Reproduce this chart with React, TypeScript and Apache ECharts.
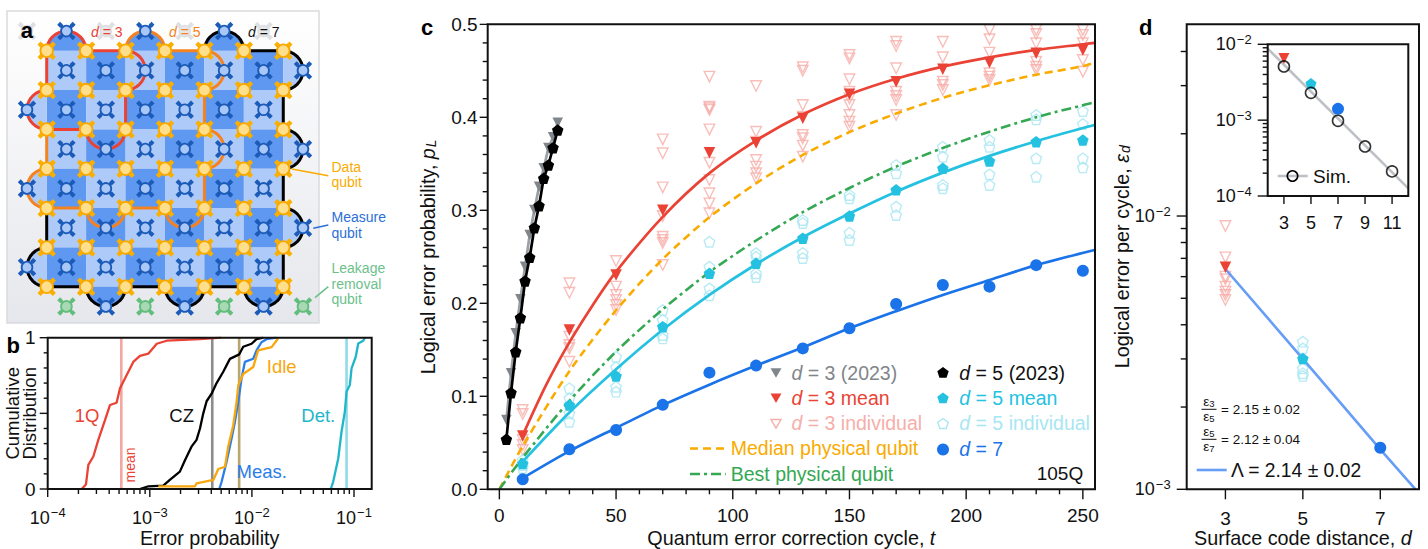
import React, { useEffect, useRef } from "react";
import * as echarts from "echarts";

const FONT = "Liberation Sans, Arial, sans-serif";
const RED = "#ea4335", CYAN = "#24c1e0", BLUE = "#1a73e8", YEL = "#f9ab00", GRN = "#34a853", GREY = "#80868b";
const PALE_RED = "#f6aea9", PALE_CY = "#a8e6f3";

// ---------- panel b: error CDFs ----------
const q1X = [2.15e-4, 2.37e-4, 2.5e-4, 2.8e-4, 3.13e-4, 3.64e-4, 4.07e-4, 4.73e-4, 5.1e-4, 5.71e-4, 6.89e-4, 8e-4, 9.7e-4, 1.17e-3, 1.46e-3, 3.1e-3, 5e-3];
const q1Y = [0, 0.03, 0.16, 0.215, 0.325, 0.455, 0.555, 0.57, 0.665, 0.73, 0.84, 0.88, 0.895, 0.96, 0.98, 0.99, 1];
const czX = [8e-4, 9.7e-4, 1.355e-3, 1.57e-3, 1.97e-3, 2.21e-3, 2.56e-3, 2.87e-3, 3.1e-3, 3.34e-3, 3.6e-3, 4.03e-3, 4.51e-3, 5.24e-3, 6.09e-3, 7.52e-3, 8.22e-3, 9.93e-3, 1.11e-2, 1.29e-2];
const czY = [0, 0.018, 0.022, 0.06, 0.115, 0.19, 0.28, 0.325, 0.4, 0.5, 0.58, 0.63, 0.7, 0.775, 0.86, 0.89, 0.94, 0.96, 0.99, 1];
const idleX = [1.21e-3, 2.77e-3, 2.87e-3, 4.19e-3, 4.68e-3, 5.45e-3, 5.86e-3, 6.56e-3, 7.08e-3, 7.35e-3, 8.22e-3, 1.03e-2, 1.15e-2, 1.56e-2, 1.81e-2];
const idleY = [0.018, 0.018, 0.037, 0.06, 0.132, 0.147, 0.28, 0.42, 0.575, 0.685, 0.76, 0.806, 0.916, 0.938, 0.996];
const measX = [4.79e-3, 5.05e-3, 5.65e-3, 6.33e-3, 6.82e-3, 7.35e-3, 7.92e-3, 8.53e-3, 1.03e-2, 1.11e-2, 1.24e-2, 1.39e-2, 1.74e-2];
const measY = [0, 0.048, 0.18, 0.335, 0.445, 0.577, 0.731, 0.84, 0.861, 0.916, 0.97, 0.99, 1];
const detX = [0.0593, 0.0625, 0.07, 0.0755, 0.0813, 0.0845, 0.091, 0.0946, 0.104, 0.11, 0.123, 0.128];
const detY = [0, 0.048, 0.2, 0.38, 0.51, 0.643, 0.687, 0.797, 0.874, 0.962, 0.98, 1];
const meanLines: [number, string][] = [[5.26e-4, "#f4a6a1"], [4.09e-3, "#8c8c8c"], [7.5e-3, "#b9a56e"], [0.0845, "#8fdbe6"]];
const bMinorX = [2e-4, 3e-4, 4e-4, 5e-4, 6e-4, 7e-4, 8e-4, 9e-4, 2e-3, 3e-3, 4e-3, 5e-3, 6e-3, 7e-3, 8e-3, 9e-3, 2e-2, 3e-2, 4e-2, 5e-2, 6e-2, 7e-2, 8e-2, 9e-2];
const bMajorX = [1e-4, 1e-3, 1e-2, 1e-1];

// ---------- panel c ----------
const cycles = [10, 30, 50, 70, 90, 110, 130, 150, 170, 190, 210, 230, 250];
const d3Mean = [0.0573, 0.1713, 0.2304, 0.3, 0.362, 0.3727, 0.399, 0.4247, 0.4383, 0.4516, 0.459, 0.4688, 0.4724];
const d5Mean = [0.0277, 0.0906, 0.1218, 0.1749, 0.2323, 0.243, 0.27, 0.294, 0.322, 0.3452, 0.353, 0.3738, 0.3756];
const d7Pts = [0.0107, 0.043, 0.0638, 0.0908, 0.1254, 0.133, 0.1515, 0.1731, 0.1992, 0.2197, 0.2179, 0.241, 0.235];
const d3Ind = [
  [0.0853, 0.081, 0.053, 0.0477, 0.0423],
  [0.2215, 0.2114, 0.1641, 0.1552, 0.1516, 0.1372],
  [0.2455, 0.2179, 0.2089, 0.2035, 0.1982, 0.1928],
  [0.3763, 0.3613, 0.3247, 0.2938, 0.2716, 0.268, 0.2648, 0.2412],
  [0.4437, 0.4114, 0.4097, 0.408, 0.387, 0.3512, 0.3326, 0.3183, 0.3075, 0.2968],
  [0.4337, 0.3845, 0.3738, 0.3541, 0.347, 0.3398, 0.3344],
  [0.4538, 0.4501, 0.4132, 0.4006, 0.381, 0.3774, 0.3695, 0.3576],
  [0.467, 0.4634, 0.4409, 0.4275, 0.4204, 0.4132, 0.4025, 0.3953, 0.3899],
  [0.4813, 0.4767, 0.4527, 0.4275, 0.4229, 0.4186, 0.4025],
  [0.4813, 0.4645, 0.4383, 0.4348, 0.4294],
  [0.494, 0.484, 0.4695, 0.4473, 0.4437, 0.4401],
  [0.494, 0.4896, 0.4796, 0.4598, 0.4544, 0.4509],
  [0.494, 0.4886, 0.4796, 0.4616, 0.449],
];
const d5Ind = [
  [0.0315, 0.0262, 0.0229],
  [0.1086, 0.0978, 0.0817, 0.0727],
  [0.1426, 0.1312, 0.1103, 0.105],
  [0.1928, 0.182, 0.1659, 0.1623],
  [0.2662, 0.2394, 0.2161, 0.2086],
  [0.254, 0.2501, 0.2323, 0.2283],
  [0.2896, 0.2863, 0.2541, 0.2487],
  [0.3165, 0.3129, 0.2759, 0.268],
  [0.3487, 0.3398, 0.3039, 0.2949],
  [0.3684, 0.3576, 0.3272, 0.3237],
  [0.3756, 0.3684, 0.3387, 0.3272],
  [0.4025, 0.3978, 0.3559, 0.3361],
  [0.4068, 0.3928, 0.3559, 0.3462],
];
const y2023T = [3, 5, 7, 9, 11, 13, 15, 17, 19, 21, 23, 25];
const d5y2023 = [0.0538, 0.1039, 0.148, 0.1845, 0.224, 0.2495, 0.2813, 0.305, 0.3344, 0.3487, 0.3673, 0.3863];
const d3y2023 = [0.0745, 0.1247, 0.1677, 0.2043, 0.2394, 0.2734, 0.3003, 0.3254, 0.3452, 0.367, 0.3785, 0.3942];
const fitD3T = [10, 20, 30, 40, 50, 70, 90, 110, 130, 150, 170, 190, 210, 230, 250, 255];
const fitD3 = [0.058, 0.112, 0.158, 0.198, 0.234, 0.293, 0.34, 0.375, 0.403, 0.4248, 0.4415, 0.4545, 0.4645, 0.4725, 0.4785, 0.48];
const fitT = [0, 10, 30, 50, 70, 90, 110, 130, 150, 170, 190, 210, 230, 250, 255];
const medianQ = [0, 0.0465, 0.127, 0.1925, 0.2475, 0.2925, 0.329, 0.3595, 0.384, 0.404, 0.421, 0.4345, 0.4458, 0.455, 0.4587];
const bestQ = [0, 0.034, 0.095, 0.148, 0.1935, 0.2335, 0.2675, 0.298, 0.324, 0.347, 0.367, 0.3845, 0.4, 0.413, 0.416];
const fitD5T = [10, 30, 50, 70, 90, 110, 130, 150, 170, 190, 210, 230, 250, 255];
const fitD5 = [0.0297, 0.0825, 0.129, 0.1715, 0.209, 0.242, 0.271, 0.2965, 0.32, 0.3405, 0.3585, 0.3743, 0.3885, 0.3917];
const fitD7 = [0.012, 0.041, 0.066, 0.0905, 0.1125, 0.133, 0.1525, 0.1731, 0.1915, 0.209, 0.225, 0.241, 0.2573];
const fitD7T = [10, 30, 50, 70, 90, 110, 130, 150, 170, 190, 210, 230, 255];
const cTicksMajor = [0, 50, 100, 150, 200, 250];
const cTicksMinor = [10, 20, 30, 40, 60, 70, 80, 90, 110, 120, 130, 140, 160, 170, 180, 190, 210, 220, 230, 240];
const cYMajor = [0, 0.1, 0.2, 0.3, 0.4, 0.5];
const cYMinor = [0.02, 0.04, 0.06, 0.08, 0.12, 0.14, 0.16, 0.18, 0.22, 0.24, 0.26, 0.28, 0.32, 0.34, 0.36, 0.38, 0.42, 0.44, 0.46, 0.48];

// ---------- panel d ----------
const dDist = [3, 5, 7];
const dMeans = [6.5e-3, 3.01e-3, 1.42e-3];
const dInd3 = [9.19e-3, 7.06e-3, 6e-3, 5.87e-3, 5.51e-3, 5.29e-3, 5.14e-3, 4.93e-3];
const dInd5 = [3.47e-3, 3.28e-3, 2.77e-3, 2.66e-3, 2.6e-3];
const dFitX = [3, 5, 7, 7.91];
const dFitY = [6.4e-3, 3e-3, 1.4e-3, 1e-3];
const dMinorY = [2e-3, 3e-3, 4e-3, 5e-3, 6e-3, 7e-3, 8e-3, 9e-3, 2e-2, 3e-2, 4e-2];
const dMajorY = [1e-3, 1e-2];
const simD = [3, 5, 7, 9, 11];
const simE = [5.1e-3, 2.29e-3, 9.8e-4, 4.5e-4, 2.11e-4];
const simLineX = [1.8, 12.2];
const simLineY = [8.77e-3, 1.26e-4];
const insetMeans = [6.5e-3, 3.04e-3, 1.41e-3];
const insetMajorY = [1e-4, 1e-3, 1e-2];
const insetMinorY = [2e-4, 3e-4, 4e-4, 5e-4, 6e-4, 7e-4, 8e-4, 9e-4, 2e-3, 3e-3, 4e-3, 5e-3, 6e-3, 7e-3, 8e-3, 9e-3];

// ---------- panel a: lattice units ----------
const idx6 = [0, 1, 2, 3, 4, 5];
const idx7 = [0, 1, 2, 3, 4, 5, 6];
const topBumps = [0.5, 2.5, 4.5];
const bottomBumps = [1.5, 3.5, 5.5];
const pathRed: any[] = [[0, 0], [1, 0, "u"], [2, 0], [2, 1, "r"], [2, 2], [1, 2, "d"], [0, 2], [0, 1, "l"], [0, 0]];
const pathOrange: any[] = [[2, 0], [3, 0, "u"], [4, 0], [4, 1, "r"], [4, 2], [4, 3, "r"], [4, 4], [3, 4, "d"], [2, 4], [1, 4, "d"], [0, 4], [0, 3, "l"], [0, 2]];
const pathBlack: any[] = [[4, 0], [5, 0, "u"], [6, 0], [6, 1, "r"], [6, 2], [6, 3, "r"], [6, 4], [6, 5, "r"], [6, 6], [5, 6, "d"], [4, 6], [3, 6, "d"], [2, 6], [1, 6, "d"], [0, 6], [0, 5, "l"], [0, 4]];

const TRI = "path://M-10,-8 L10,-8 L0,9 Z";
const PENT = "path://M0,-10 L9.51,-3.09 5.88,8.09 -5.88,8.09 -9.51,-3.09 Z";

const zip = (a: number[], b: number[]) => a.map((v, i) => [v, b[i]]);
const DIRS: any = { u: [0, -1], d: [0, 1], l: [-1, 0], r: [1, 0] };
function samplePath(path: any[]) {
  const out: number[][] = [[path[0][0], path[0][1]]];
  for (let k = 1; k < path.length; k++) {
    const p = path[k - 1], q = path[k];
    if (q[2]) {
      const c = [(p[0] + q[0]) / 2, (p[1] + q[1]) / 2];
      const a0 = Math.atan2(p[1] - c[1], p[0] - c[0]);
      const b = DIRS[q[2]];
      const s = Math.cos(a0 + Math.PI / 2) * b[0] + Math.sin(a0 + Math.PI / 2) * b[1] > 0 ? 1 : -1;
      for (let n = 1; n <= 16; n++) {
        const a = a0 + (s * Math.PI * n) / 16;
        out.push([c[0] + 0.5 * Math.cos(a), c[1] + 0.5 * Math.sin(a)]);
      }
    } else out.push([q[0], q[1]]);
  }
  return out;
}

const pentPts = (cx: number, cy: number, r: number) =>
  [0, 1, 2, 3, 4].map((i) => [cx + r * Math.sin((i * 2 * Math.PI) / 5), cy - r * Math.cos((i * 2 * Math.PI) / 5)]);
const triPts = (cx: number, cy: number, r: number) => [[cx - r, cy - r * 0.8], [cx + r, cy - r * 0.8], [cx, cy + r * 0.9]];

const pow10 = (v: number) => {
  const l = Math.log10(v);
  const n = Math.round(l);
  if (Math.abs(l - n) > 1e-6) return "";
  return `{b|10}{s|\u2212${Math.abs(n)}}`;
};
const powRich = { b: { fontSize: 18, fontFamily: FONT, color: "#111" }, s: { fontSize: 13, fontFamily: FONT, color: "#111", padding: [0, 0, 10, 1] } };

function App() {
  const ref = useRef<HTMLDivElement>(null);
  useEffect(() => {
    const chart = echarts.init(ref.current!, undefined, { renderer: "svg" });

    const ticks = (ax: number, dim: "x" | "y", values: number[], at: number, len: number, w = 1.4) => ({
      type: "custom",
      xAxisIndex: ax,
      yAxisIndex: ax,
      silent: true,
      z: 5,
      data: values.map((v) => (dim === "x" ? [v, at] : [at, v])),
      renderItem: (_: any, api: any) => {
        const p = api.coord([api.value(0), api.value(1)]);
        return {
          type: "line",
          shape: dim === "x" ? { x1: p[0], y1: p[1], x2: p[0], y2: p[1] + len } : { x1: p[0], y1: p[1], x2: p[0] - len, y2: p[1] },
          style: { stroke: "#111", lineWidth: w },
        };
      },
    });
    const line = (ax: number, name: string, data: number[][], color: string, width = 2.6, extra: any = {}) => ({
      type: "line", name, xAxisIndex: ax, yAxisIndex: ax, data, showSymbol: false, silent: true,
      lineStyle: { color, width, ...(extra.lineStyle || {}) }, itemStyle: { color }, smooth: extra.smooth || false, z: extra.z || 3,
    });
    const dots = (ax: number, name: string, data: number[][], symbol: string, size: number, color: string, open = false, z = 4) => ({
      type: "scatter", name, xAxisIndex: ax, yAxisIndex: ax, data, symbol, symbolSize: size, silent: true, z,
      clip: false,
      itemStyle: open ? { color: "rgba(255,255,255,0)", borderColor: color, borderWidth: 1.4 } : { color, opacity: 1 },
    });

    // Panel a series
    const cells: number[][] = [];
    idx6.forEach((i) => idx6.forEach((j) => cells.push([i, j])));
    const bumps: number[][] = [];
    topBumps.forEach((x) => bumps.push([x, 0, 0]));
    bottomBumps.forEach((x) => bumps.push([x, 6, 1]));
    topBumps.forEach((y) => bumps.push([6, y, 2]));
    bottomBumps.forEach((y) => bumps.push([0, y, 3]));
    const qubits: number[][] = [];
    idx7.forEach((i) => idx7.forEach((j) => qubits.push([i, j, 0])));
    idx6.forEach((i) => idx6.forEach((j) => qubits.push([i + 0.5, j + 0.5, 1])));
    topBumps.forEach((x) => qubits.push([x, -0.5, 1]));
    bottomBumps.forEach((x) => qubits.push([x, 6.5, 1]));
    topBumps.forEach((y) => qubits.push([6.5, y, 1]));
    bottomBumps.forEach((y) => qubits.push([-0.5, y, 1]));
    [0.5, 2.5, 4.5, 6.5].forEach((x) => qubits.push([x, 6.5, 2]));
    [-0.5, 1.5, 3.5, 5.5].forEach((x) => qubits.push([x, -0.5, 3]));
    const boundaries = [[pathBlack, "#000"], [pathOrange, "#f58220"], [pathRed, RED]] as [any[], string][];

    const QSTYLE = [
      { arm: "#fbb000", ring: "#f9a800", fill: "#ffdf8c", r: 6.3, L: 6.2, D: 3.0, w: 4.2 },
      { arm: "#1c5bb8", ring: "#1c5bb8", fill: "#a9c7f7", r: 5.4, L: 6.3, D: 2.9, w: 3.2 },
      { arm: "#63bd7c", ring: "#63bd7c", fill: "#a8d9b5", r: 5.4, L: 6.3, D: 2.9, w: 3.2 },
      { arm: "#dfe0e3", ring: "#dfe0e3", fill: "#e7e8ea", r: 5.4, L: 6.3, D: 2.9, w: 3.2 },
    ];

    const seriesA: any[] = [
      {
        type: "custom", xAxisIndex: 0, yAxisIndex: 0, silent: true, z: 2, data: cells,
        renderItem: (_: any, api: any) => {
          const i = api.value(0), j = api.value(1);
          const p = api.coord([i, j]), q = api.coord([i + 1, j + 1]);
          return {
            type: "rect",
            shape: { x: p[0], y: p[1], width: q[0] - p[0], height: q[1] - p[1] },
            style: { fill: (i + j) % 2 ? "#5f98f0" : "#aecaf8" },
          };
        },
      },
      {
        type: "custom", xAxisIndex: 0, yAxisIndex: 0, silent: true, z: 2, data: bumps,
        renderItem: (_: any, api: any) => {
          const x = api.value(0), y = api.value(1), d = api.value(2);
          const base = d === 0 ? Math.PI : d === 1 ? 0 : d === 2 ? -Math.PI / 2 : Math.PI / 2;
          const pts: number[][] = [];
          for (let n = 0; n <= 24; n++) {
            const a = base + (Math.PI * n) / 24;
            pts.push(api.coord([x + 0.5 * Math.cos(a), y + 0.5 * Math.sin(a)]));
          }
          return { type: "polygon", shape: { points: pts }, style: { fill: d < 2 ? "#5f98f0" : "#aecaf8" } };
        },
      },
      {
        type: "custom", xAxisIndex: 0, yAxisIndex: 0, silent: true, z: 3, data: boundaries.map((_, i) => [i, i]),
        renderItem: (_: any, api: any) => {
          const b = boundaries[api.value(0)];
          return {
            type: "polyline",
            shape: { points: samplePath(b[0]).map((p) => api.coord(p)) },
            style: { stroke: b[1], lineWidth: 3, fill: "none", lineJoin: "round" },
          };
        },
      },
      {
        type: "custom", xAxisIndex: 0, yAxisIndex: 0, silent: true, z: 4, data: qubits,
        renderItem: (_: any, api: any) => {
          const c = api.coord([api.value(0), api.value(1)]);
          const s = QSTYLE[api.value(2)];
          const children: any[] = [];
          [[1, 1], [1, -1], [-1, 1], [-1, -1]].forEach(([a, b]) => {
            const ex = c[0] + a * s.L, ey = c[1] + b * s.L;
            children.push({ type: "line", shape: { x1: c[0], y1: c[1], x2: ex, y2: ey }, style: { stroke: s.arm, lineWidth: s.w } });
            children.push({
              type: "polygon",
              shape: { points: [[ex + s.D * a, ey], [ex, ey + s.D * b], [ex - s.D * a, ey], [ex, ey - s.D * b]] },
              style: { fill: s.arm },
            });
          });
          children.push({ type: "circle", shape: { cx: c[0], cy: c[1], r: s.r }, style: { fill: s.fill, stroke: s.ring, lineWidth: 1.8 } });
          return { type: "group", children };
        },
      },
    ];

    const seriesB: any[] = [
      ...meanLines.map(([v, c]) => line(1, "mean", [[v, 0], [v, 1]], c, 2.6)),
      line(1, "1Q", zip(q1X, q1Y), RED, 2.3),
      line(1, "CZ", zip(czX, czY), "#000", 2.3),
      line(1, "Meas.", zip(measX, measY), "#2b7de9", 2.3),
      line(1, "Idle", zip(idleX, idleY), "#f9a70e", 2.3),
      line(1, "Det.", zip(detX, detY), "#1fb6c9", 2.3),
      ticks(1, "x", bMajorX, 0, 8),
      ticks(1, "x", bMinorX, 0, 5),
      ticks(1, "y", [0, 0.5, 1], 1e-4, 8),
      ticks(1, "y", [0.1, 0.2, 0.3, 0.4, 0.6, 0.7, 0.8, 0.9], 1e-4, 4),
    ];

    const d3IndPts: number[][] = [];
    d3Ind.forEach((l, i) => l.forEach((v) => d3IndPts.push([cycles[i], v])));
    const d5IndPts: number[][] = [];
    d5Ind.forEach((l, i) => l.forEach((v) => d5IndPts.push([cycles[i], v])));

    const seriesC: any[] = [
      dots(2, "d = 3 individual", d3IndPts, TRI, 10.5, PALE_RED, true, 2),
      dots(2, "d = 5 individual", d5IndPts, PENT, 10.5, PALE_CY, true, 2),
      line(2, "Median physical qubit", zip(fitT, medianQ), YEL, 2.6, { smooth: 0.3, lineStyle: { type: [8, 5] } }),
      line(2, "Best physical qubit", zip(fitT, bestQ), GRN, 2.6, { smooth: 0.3, lineStyle: { type: [10, 4, 3, 4] } }),
      line(2, "d = 3 fit", zip(fitD3T, fitD3), RED, 2.7, { smooth: 0.3 }),
      line(2, "d = 5 fit", zip(fitD5T, fitD5), CYAN, 2.7, { smooth: 0.3 }),
      line(2, "d = 7 fit", zip(fitD7T, fitD7), BLUE, 2.7, { smooth: 0.3 }),
      line(2, "d = 3 (2023)", zip(y2023T, d3y2023), "#9aa0a6", 2.7),
      dots(2, "d = 3 (2023)", zip(y2023T, d3y2023), TRI, 10.5, GREY),
      dots(2, "d = 3 mean", zip(cycles, d3Mean), TRI, 11.5, RED),
      dots(2, "d = 5 mean", zip(cycles, d5Mean), PENT, 11.5, CYAN),
      dots(2, "d = 7", zip(cycles, d7Pts), "circle", 12, BLUE),
      line(2, "d = 5 (2023)", zip(y2023T, d5y2023), "#000", 2.7, { z: 5 }),
      dots(2, "d = 5 (2023)", zip(y2023T, d5y2023), PENT, 11.5, "#000", false, 5),
      ticks(2, "x", cTicksMajor, 0, 10),
      ticks(2, "x", cTicksMinor, 0, 5),
      ticks(2, "y", cYMajor, -5, 8),
      ticks(2, "y", cYMinor, -5, 5),
    ];

    const seriesD: any[] = [
      dots(3, "d = 3 individual", zip(dInd3.map(() => dDist[0]), dInd3), TRI, 10.5, PALE_RED, true, 2),
      dots(3, "d = 5 individual", zip(dInd5.map(() => dDist[1]), dInd5), PENT, 10.5, PALE_CY, true, 2),
      line(3, "Lambda fit", zip(dFitX, dFitY), "#669df6", 2.6),
      dots(3, "d = 3 mean", [[dDist[0], dMeans[0]]], TRI, 11.5, RED),
      dots(3, "d = 5 mean", [[dDist[1], dMeans[1]]], PENT, 11.5, CYAN),
      dots(3, "d = 7", [[dDist[2], dMeans[2]]], "circle", 12, BLUE),
      ticks(3, "x", dDist, 1e-3, 10),
      ticks(3, "y", dMajorY, 2, 10),
      ticks(3, "y", dMinorY, 2, 6),
      line(4, "Sim. fit", zip(simLineX, simLineY), "#bdc1c6", 2.6),
      dots(4, "d = 3 mean", [[simD[0], insetMeans[0]]], TRI, 11, RED),
      dots(4, "d = 5 mean", [[simD[1], insetMeans[1]]], PENT, 11, CYAN),
      dots(4, "d = 7", [[simD[2], insetMeans[2]]], "circle", 12, BLUE),
      {
        ...dots(4, "Sim.", zip(simD, simE), "circle", 11, "#000", true, 6),
        itemStyle: { color: "rgba(255,255,255,0)", borderColor: "#000", borderWidth: 1.6 },
      },
      ticks(4, "x", simD, 1e-4, 8),
      ticks(4, "y", insetMajorY, 1.8, 10),
      ticks(4, "y", insetMinorY, 1.8, 5),
    ];

    const txt = (text: string, x: number, y: number, fontSize: number, fill: string, extra: any = {}) => ({
      type: "text", z: 70, x, y, rotation: extra.rotation || 0,
      style: {
        text, x: 0, y: 0, fontSize, fontFamily: FONT, fill,
        fontWeight: extra.fontWeight || "normal",
        align: extra.align || "left", verticalAlign: "middle",
        rich: extra.rich, lineHeight: extra.lineHeight,
      },
    });
    const ital = (fontSize: number, color: string) => ({
      i: { fontSize, fontFamily: FONT, fontStyle: "italic", color },
      n: { fontSize, fontFamily: FONT, color },
    });
    const legendT = (d: string, rest: string, x: number, y: number, c: string, fs = 19.5) =>
      txt(`{i|${d}}{n|${rest}}`, x, y, fs, c, { rich: ital(fs, c) });
    const frame = (x: number, y: number, w: number, h: number) => ({
      type: "rect", z: 60, shape: { x, y, width: w, height: h }, style: { fill: "none", stroke: "#111", lineWidth: 2 },
    });
    const lineG = (x1: number, y1: number, x2: number, y2: number, stroke: string, lineWidth = 1.5, lineDash?: number[]) => ({
      type: "line", z: 70, shape: { x1, y1, x2, y2 }, style: { stroke, lineWidth, lineDash },
    });
    const frac = (a: string, b: string, value: string, cy: number) => {
      const r = { n: { fontSize: 13.5, fontFamily: FONT, color: "#111" }, s: { fontSize: 9.5, fontFamily: FONT, color: "#111", padding: [4, 0, 0, 0] } };
      return [
        txt(`{n|\u03b5}{s|${a}}`, 1209, cy - 7.5, 13.5, "#111", { align: "center", rich: r }),
        lineG(1201.5, cy, 1216.5, cy, "#111", 1),
        txt(`{n|\u03b5}{s|${b}}`, 1209, cy + 7.5, 13.5, "#111", { align: "center", rich: r }),
        txt(value, 1221, cy, 13.5, "#111"),
      ];
    };

    const graphicEls: any[] = [
      { type: "rect", z: 55, shape: { x: 478, y: 0, width: 625, height: 23.3 }, style: { fill: "#fff" } },
      frame(47.7, 337.7, 324, 151.3),
      frame(487.7, 24.3, 607.3, 465),
      frame(1186.7, 24.3, 232.3, 465),
      frame(1267.7, 44.3, 140.6, 151.7),
      // panel letters
      txt("a", 20.7, 30, 22, "#000", { fontWeight: "bold" }),
      txt("b", 6.5, 345, 22, "#000", { fontWeight: "bold" }),
      txt("c", 421, 27, 22, "#000", { fontWeight: "bold" }),
      txt("d", 1139, 27, 22, "#000", { fontWeight: "bold" }),
      // panel a
      legendT("d", " = 3", 91, 31.5, RED, 14),
      legendT("d", " = 5", 169, 31.5, "#f58220", 14),
      legendT("d", " = 7", 248, 31.5, "#111", 14),
      txt("Data", 331.5, 166.7, 14, "#f9ab00"),
      txt("qubit", 331.5, 182.3, 14, "#f9ab00"),
      txt("Measure", 331.5, 217, 14, "#2b6fd6"),
      txt("qubit", 331.5, 232.7, 14, "#2b6fd6"),
      txt("Leakage", 331.5, 267.7, 14, "#6cc08b"),
      txt("removal", 331.5, 283.7, 14, "#6cc08b"),
      txt("qubit", 331.5, 299, 14, "#6cc08b"),
      lineG(291.7, 169, 328.3, 175.7, "#f9ab00", 1.6),
      lineG(313.3, 228.3, 328.3, 225, "#2b6fd6", 1.6),
      lineG(315, 297.7, 328.3, 286.7, "#6cc08b", 1.6),
      // panel b
      txt("1Q", 87, 415.7, 18.5, RED, { align: "center" }),
      txt("CZ", 181.7, 415.7, 18.5, "#111", { align: "center" }),
      txt("Idle", 281.7, 366, 18.5, "#f9a70e", { align: "center" }),
      txt("Meas.", 261.7, 471.7, 18.5, "#2b7de9", { align: "center" }),
      txt("Det.", 318.3, 415.7, 18.5, "#1fb6c9", { align: "center" }),
      txt("mean", 129.5, 465, 14, RED, { align: "center", rotation: Math.PI / 2 }),
      // panel c legend
      { type: "polygon", z: 70, shape: { points: triPts(776, 372.7, 5.5) }, style: { fill: GREY } },
      { type: "polygon", z: 70, shape: { points: triPts(776, 398, 5.5) }, style: { fill: RED } },
      { type: "polygon", z: 70, shape: { points: triPts(776, 423.5, 5) }, style: { fill: "none", stroke: PALE_RED, lineWidth: 1.4 } },
      legendT("d", " = 3 (2023)", 791.5, 372.7, GREY),
      legendT("d", " = 3 mean", 791.5, 398, RED),
      legendT("d", " = 3 individual", 791.5, 423, PALE_RED),
      { type: "polygon", z: 70, shape: { points: pentPts(943, 373, 6) }, style: { fill: "#000" } },
      { type: "polygon", z: 70, shape: { points: pentPts(943, 398.5, 6) }, style: { fill: CYAN } },
      { type: "polygon", z: 70, shape: { points: pentPts(943, 424, 5.5) }, style: { fill: "none", stroke: PALE_CY, lineWidth: 1.4 } },
      { type: "circle", z: 70, shape: { cx: 943, cy: 449.5, r: 6 }, style: { fill: BLUE } },
      legendT("d", " = 5 (2023)", 959.3, 372.7, "#111"),
      legendT("d", " = 5 mean", 959.3, 398, CYAN),
      legendT("d", " = 5 individual", 959.3, 423, PALE_CY),
      legendT("d", " = 7", 959.3, 448.5, BLUE),
      lineG(690, 448.5, 725.7, 448.5, YEL, 2.6, [8, 5]),
      lineG(690, 474, 725.7, 474, GRN, 2.6, [10, 4, 3, 4]),
      txt("Median physical qubit", 730.7, 448, 19.5, YEL),
      txt("Best physical qubit", 730.7, 473.5, 19.5, GRN),
      txt("105Q", 1036.7, 473.5, 19, "#111"),
      // panel d annotations
      ...frac("3", "5", "= 2.15 \u00b1 0.02", 409.3),
      ...frac("5", "7", "= 2.12 \u00b1 0.04", 439.3),
      lineG(1196.7, 470, 1226.7, 470, "#669df6", 2.6),
      txt("\u039b = 2.14 \u00b1 0.02", 1231, 470, 19.3, "#111"),
      lineG(1277.7, 176, 1307.7, 176, "#bdc1c6", 2.6),
      { type: "circle", z: 70, shape: { cx: 1292.5, cy: 176, r: 5.2 }, style: { fill: "none", stroke: "#000", lineWidth: 1.6 } },
      txt("Sim.", 1313, 176, 19, "#111"),
    ];

    const labelBase = { fontSize: 19, fontFamily: FONT, color: "#111" };
    const hide = { axisLine: { show: false, onZero: false }, axisTick: { show: false }, splitLine: { show: false } };
    const subRich = {
      i: { fontSize: 19.8, fontFamily: FONT, fontStyle: "italic", color: "#111" },
      sub: { fontSize: 14, fontFamily: FONT, fontStyle: "italic", color: "#111", padding: [6, 0, 0, 1] },
    };
    const nameStyle = { fontSize: 19.8, fontFamily: FONT, color: "#111", rich: subRich };
    const NB = { outerBoundsMode: "none" };
    const nameBase = { nameLocation: "middle", nameMoveOverlap: false };

    chart.setOption({
      animation: false,
      backgroundColor: "#fff",
      textStyle: { fontFamily: FONT },
      grid: [
        {
          ...NB, left: 7, top: 11, width: 312, height: 312, show: true, borderColor: "#d9dadd", borderWidth: 1.5,
          backgroundColor: new (echarts as any).graphic.LinearGradient(0, 0, 0, 1, [
            { offset: 0, color: "#ffffff" }, { offset: 1, color: "#e6e7ec" },
          ]),
        },
        { ...NB, left: 47.7, top: 337.7, width: 324, height: 151.3 },
        { ...NB, left: 487.7, top: 24.3, width: 607.3, height: 465 },
        { ...NB, left: 1186.7, top: 24.3, width: 232.3, height: 465 },
        { ...NB, left: 1267.7, top: 44.3, width: 140.6, height: 151.7, show: true, backgroundColor: "#fff", borderWidth: 0 },
      ],
      xAxis: [
        { gridIndex: 0, type: "value", min: -1.007, max: 6.906, show: false },
        {
          gridIndex: 1, type: "log", logBase: 10, min: 1e-4, max: 0.149, ...hide,
          axisLabel: { ...labelBase, margin: 17, formatter: pow10, rich: powRich, showMaxLabel: false, hideOverlap: false },
          name: "Error probability", ...nameBase, nameGap: 39, nameTextStyle: nameStyle,
        },
        {
          gridIndex: 2, type: "value", min: -5, max: 255.2, ...hide,
          axisLabel: { ...labelBase, margin: 17, customValues: cTicksMajor },
          name: "Quantum error correction cycle, {i|t}", ...nameBase, nameGap: 39, nameTextStyle: nameStyle,
        },
        {
          gridIndex: 3, type: "value", min: 2, max: 8, ...hide,
          axisLabel: { ...labelBase, margin: 20, customValues: dDist },
          name: "Surface code distance, {i|d}", ...nameBase, nameGap: 39, nameTextStyle: nameStyle,
        },
        {
          gridIndex: 4, type: "value", min: 1.8, max: 12.2, ...hide,
          axisLabel: { ...labelBase, fontSize: 18, margin: 18, customValues: simD },
        },
      ],
      yAxis: [
        { gridIndex: 0, type: "value", min: -1.01, max: 6.92, inverse: true, show: false },
        {
          gridIndex: 1, type: "value", min: 0, max: 1, interval: 0.5, ...hide,
          axisLabel: { ...labelBase, margin: 12, formatter: (v: number) => (v === 0 || v === 1 ? String(v) : "") },
          name: "Cumulative\nDistribution", ...nameBase, nameRotate: 90, nameGap: 10,
          nameTextStyle: { fontSize: 18.5, fontFamily: FONT, color: "#111", lineHeight: 17 },
        },
        {
          gridIndex: 2, type: "value", min: 0, max: 0.5, interval: 0.1, ...hide,
          axisLabel: { ...labelBase, margin: 10, formatter: (v: number) => v.toFixed(1) },
          name: "Logical error probability, {i|p}{sub|L}", ...nameBase, nameRotate: 90, nameGap: 50, nameTextStyle: nameStyle,
        },
        {
          gridIndex: 3, type: "log", logBase: 10, min: 1e-3, max: 0.0503, ...hide,
          axisLabel: { ...labelBase, margin: 16, formatter: pow10, rich: powRich, showMaxLabel: false },
          name: "Logical error per cycle, {i|\u03b5}{sub|d}", ...nameBase, nameRotate: 90, nameGap: 55, nameTextStyle: nameStyle,
        },
        {
          gridIndex: 4, type: "log", logBase: 10, min: 1e-4, max: 1e-2, ...hide,
          axisLabel: { ...labelBase, margin: 16, formatter: pow10, rich: powRich },
        },
      ],
      series: [...seriesA, ...seriesB, ...seriesC, ...seriesD],
      graphic: { elements: graphicEls },
    });
    return () => chart.dispose();
  }, []);
  return <div ref={ref} style={{ position: "fixed", left: 0, top: 0, width: 1428, height: 549, background: "#fff" }} />;
}

export default App;
